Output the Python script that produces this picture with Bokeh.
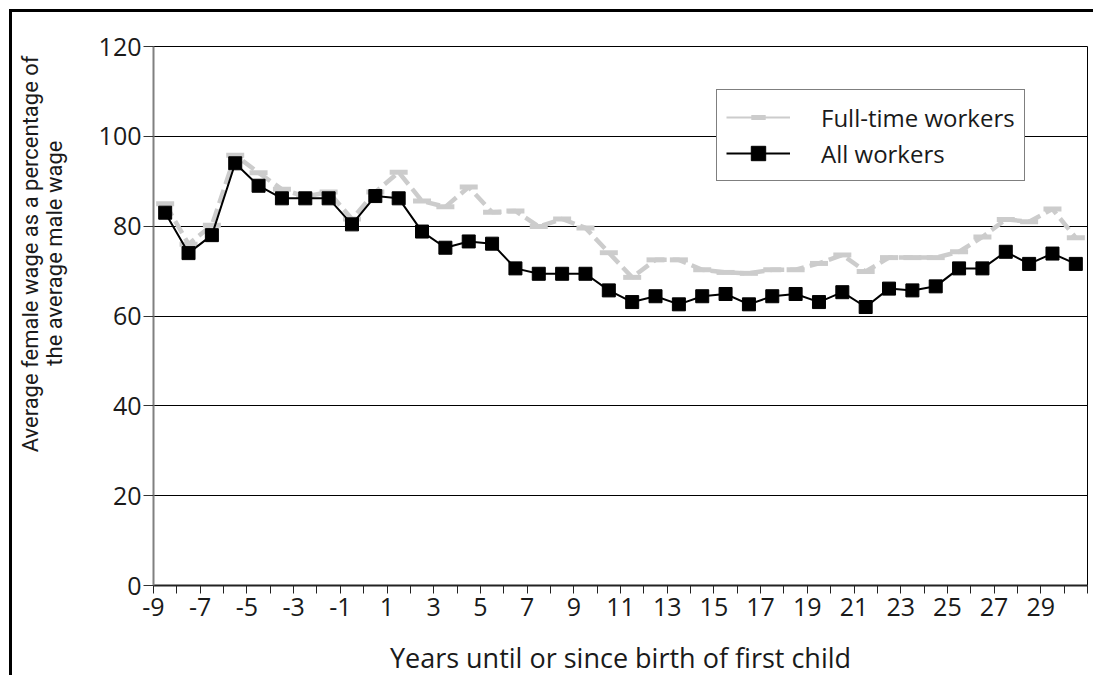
import numpy as np
from bokeh.plotting import figure
from bokeh.models import ColumnDataSource, Range1d, FixedTicker, Title, Legend, LegendItem, CustomJSTickFormatter
from bokeh.transform import dodge
from bokeh.embed import file_html
from bokeh.resources import INLINE

years = list(range(-9, 31))
all_workers = [83, 74, 78, 94, 89, 86.2, 86.2, 86.2, 80.4, 86.7, 86.2, 78.8, 75.2,
               76.6, 76.1, 70.6, 69.4, 69.4, 69.4, 65.7, 63.1, 64.4, 62.6, 64.4, 64.9, 62.6,
               64.4, 64.9, 63.1, 65.3, 62.0, 66.1, 65.7, 66.6, 70.6, 70.6, 74.3, 71.6, 73.9, 71.6]
full_time = [85, 76, 80.2, 95.8, 91.9, 88.2, 86.6, 87.6, 81.6, 87.6, 92, 85.6, 84.3,
             88.7, 83.1, 83.4, 79.9, 81.6, 79.6, 74.1, 68.6, 72.5, 72.5, 70.3, 69.7, 69.5,
             70.3, 70.3, 71.7, 73.6, 69.9, 73.0, 73.0, 73.0, 74.3, 77.6, 81.5, 81.0, 83.8, 77.4]
x_tick_labels = list(range(-9, 30, 2))
y_ticks = [0, 20, 40, 60, 80, 100, 120]

FONT = "Open Sans"
YFONT = "Roboto"
TXT = "#1a1a1a"

src = ColumnDataSource(dict(year=years, all=all_workers, ft=full_time,
                            proxy=[float("nan")] * len(years)))

p = figure(width=1084, height=666, output_backend="svg", toolbar_location=None,
           x_range=Range1d(-9, 31), y_range=Range1d(0, 120))
p.min_border_left = 141
p.min_border_right = 9
p.min_border_top = 34
p.min_border_bottom = 86
p.styles = {"margin-left": "9px", "margin-top": "9px",
            "border-left": "3px solid black", "border-top": "3px solid black"}
p.background_fill_color = "white"
p.border_fill_color = "white"
p.outline_line_color = "black"
p.outline_line_width = 1

xs = dodge("year", 0.5, range=p.x_range)
r_ft = p.line(x=xs, y="ft", source=src, line_color="#cccccc", line_width=4.5, line_dash="14 6")
r_ft_m = p.scatter(x=xs, y="ft", source=src, marker="dash", size=18, line_color="#cccccc", line_width=5)
r_ft_proxy = p.line(x=xs, y="proxy", source=src, line_color="#cccccc", line_width=2)
r_all = p.line(x=xs, y="all", source=src, line_color="black", line_width=2)
r_all_m = p.scatter(x=xs, y="all", source=src, marker="square", size=13, fill_color="black", line_color="black")

fmt = CustomJSTickFormatter(code="return String(tick);")

# axes
p.xaxis.ticker = FixedTicker(ticks=x_tick_labels, minor_ticks=[v for v in range(-9, 32) if v not in x_tick_labels])
p.xaxis.formatter = fmt
p.xaxis.major_tick_out = 8
p.xaxis.major_tick_in = 0
p.xaxis.minor_tick_out = 8
p.xaxis.minor_tick_in = 0
p.xaxis.axis_line_color = "#222222"
p.xaxis.axis_line_width = 2
p.xaxis.major_tick_line_color = "#222222"
p.xaxis.minor_tick_line_color = "#222222"
p.xaxis.major_label_text_font = FONT
p.xaxis.major_label_text_font_size = "25px"
p.xaxis.major_label_text_color = TXT
p.xaxis.major_label_standoff = 4
p.xaxis.axis_label = "Years until or since birth of first child"
p.xaxis.axis_label_text_font = FONT
p.xaxis.axis_label_text_font_size = "27px"
p.xaxis.axis_label_text_font_style = "normal"
p.xaxis.axis_label_text_color = TXT
p.xaxis.axis_label_standoff = 20

p.yaxis.ticker = FixedTicker(ticks=y_ticks)
p.yaxis.formatter = fmt
p.yaxis.minor_tick_line_color = None
p.yaxis.major_tick_out = 10
p.yaxis.major_tick_in = 0
p.yaxis.axis_line_color = "#808080"
p.yaxis.axis_line_width = 2
p.yaxis.major_tick_line_color = "#333333"
p.yaxis.major_label_text_font = FONT
p.yaxis.major_label_text_font_size = "25px"
p.yaxis.major_label_text_color = TXT
p.yaxis.major_label_standoff = 2
# invisible spacer label to push the side titles outward
p.yaxis.axis_label = " "
p.yaxis.axis_label_text_font_size = "1px"
p.yaxis.axis_label_standoff = 27

p.xgrid.grid_line_color = None
p.ygrid.ticker = FixedTicker(ticks=y_ticks[1:])
p.ygrid.grid_line_color = "black"
p.ygrid.grid_line_width = 1

# y-axis title as two side titles (line nearest the axis is added first)
t2 = Title(text="the average male wage", align="right", offset=94, standoff=-6, vertical_align="middle",
           text_font=YFONT, text_font_size="22px", text_font_style="normal", text_color=TXT)
t1 = Title(text="Average female wage as a percentage of", align="right", offset=9, standoff=0,
           vertical_align="middle",
           text_font=YFONT, text_font_size="22px", text_font_style="normal", text_color=TXT)
p.add_layout(t2, "left")
p.add_layout(t1, "left")

legend = Legend(items=[LegendItem(label="Full-time workers", renderers=[r_ft_proxy, r_ft_m]),
                       LegendItem(label="All workers", renderers=[r_all, r_all_m])],
                location=(563, 404))
legend.label_text_font = FONT
legend.label_text_font_size = "24px"
legend.label_text_color = TXT
legend.label_height = 36
legend.glyph_height = 36
legend.glyph_width = 64
legend.label_standoff = 31
legend.padding = 9
legend.spacing = 0
legend.margin = 0
legend.border_line_color = "black"
legend.border_line_width = 1.5
legend.background_fill_color = "white"
legend.background_fill_alpha = 1
p.add_layout(legend)

open("out.html", "w").write(file_html(p, INLINE))
